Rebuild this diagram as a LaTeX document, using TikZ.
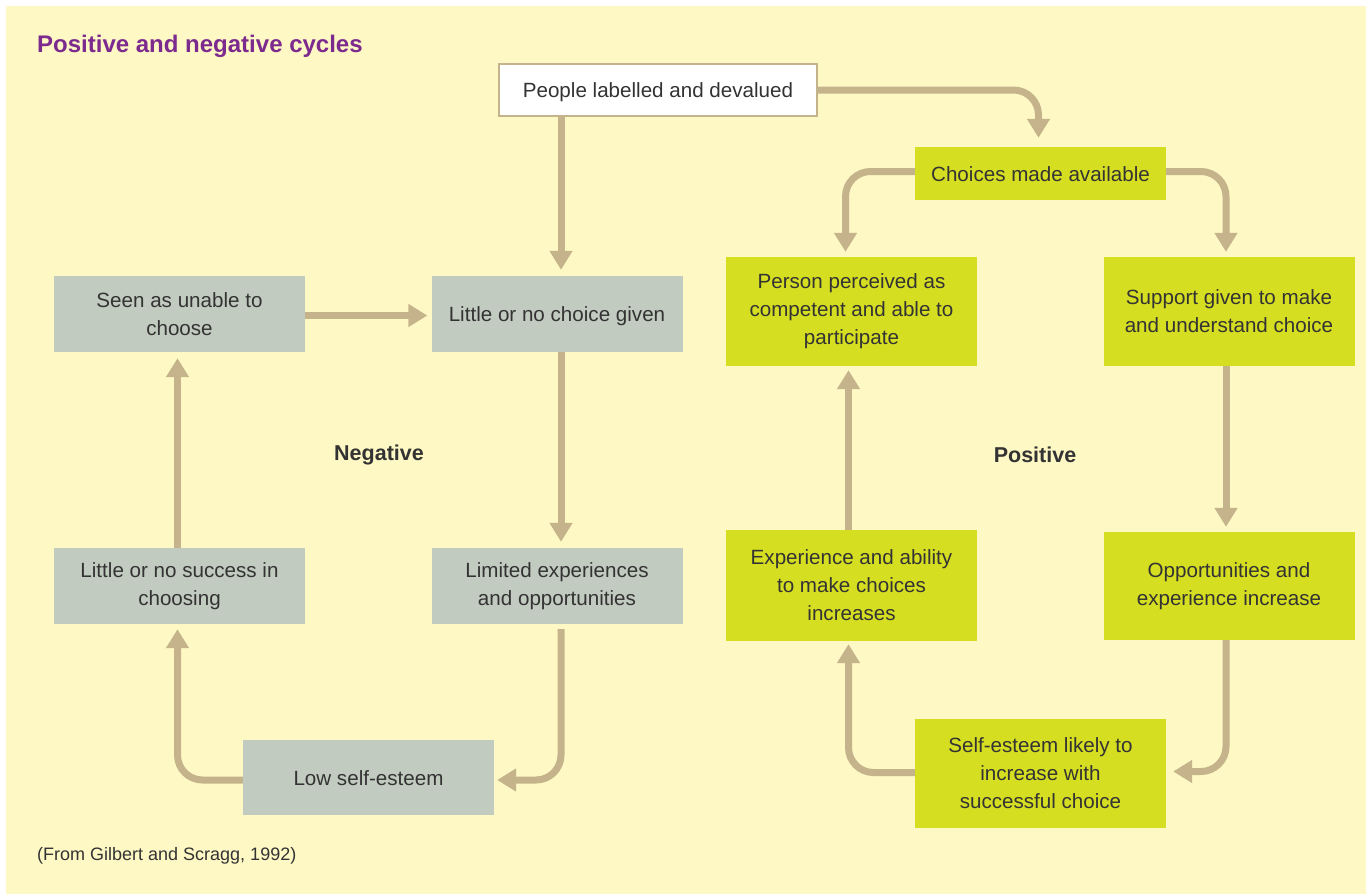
\documentclass[tikz,border=0pt]{standalone}
\usepackage{fontspec}
\setmainfont{Liberation Sans}
\usetikzlibrary{arrows.meta,calc}
\definecolor{bgyellow}{HTML}{FEF8C4}
\definecolor{boxgray}{HTML}{C2CBC0}
\definecolor{boxgreen}{HTML}{D6DE22}
\definecolor{arrowtan}{HTML}{C4B38B}
\definecolor{txtdark}{HTML}{333333}
\definecolor{titlepurple}{HTML}{7D2A8E}
\tikzset{
  boxbase/.style={rectangle, inner sep=0pt, align=center, text=txtdark,
    font=\fontsize{20.6}{28}\selectfont, minimum width=251pt},
  oneline/.style={text height=15pt, text depth=0pt},
  graybox/.style={boxbase, fill=boxgray},
  greenbox/.style={boxbase, fill=boxgreen},
  whitebox/.style={boxbase, fill=white, draw=arrowtan, line width=2pt},
  arr/.style={draw=arrowtan, line width=7pt, rounded corners=25pt,
    -{Triangle[width=22pt,length=19pt]}},
  cyclelabel/.style={font=\bfseries\fontsize{21.5}{24}\selectfont, text=txtdark}
}
\begin{document}
\begin{tikzpicture}[x=1pt,y=-1pt]
\useasboundingbox (0,0) rectangle (1370,894);
\fill[bgyellow] (6,6) rectangle (1366,894);

\node[anchor=west, inner sep=0pt, font=\bfseries\fontsize{24}{28}\selectfont, text=titlepurple] (title) at (37,46) {Positive and negative cycles};
\node[anchor=west, inner sep=0pt, font=\fontsize{18}{22}\selectfont, text=txtdark] (source) at (37,856) {(From Gilbert and Scragg, 1992)};

\node[whitebox, oneline, minimum width=318pt, minimum height=52pt] (people) at (658,90) {People labelled and devalued};
\node[greenbox, oneline, minimum height=53pt] (choices) at (1040.5,173.5) {Choices made available};

\node[graybox, minimum height=76pt] (seen) at (179.5,314) {Seen as unable to\\choose};
\node[graybox, oneline, minimum height=76pt] (nochoice) at (557,314) {Little or no choice given};
\node[graybox, minimum height=76pt] (nosuccess) at (179.5,586) {Little or no success in\\choosing};
\node[graybox, minimum height=76pt] (limited) at (557,586) {Limited experiences\\and opportunities};
\node[graybox, oneline, minimum height=75pt] (low) at (368.5,777.5) {Low self-esteem};

\node[greenbox, minimum height=109pt] (person) at (851.5,311.5) {Person perceived as\\competent and able to\\participate};
\node[greenbox, minimum height=109pt] (support) at (1229,311.5) {Support given to make\\and understand choice};
\node[greenbox, minimum height=111pt] (experience) at (851.5,585.5) {Experience and ability\\to make choices\\increases};
\node[greenbox, minimum height=108pt] (opps) at (1229,586) {Opportunities and\\experience increase};
\node[greenbox, minimum height=109pt] (selfest) at (1040.5,773.5) {Self-esteem likely to\\increase with\\successful choice};

\node[cyclelabel] (neg) at (379,455) {Negative};
\node[cyclelabel] (pos) at (1035,455) {Positive};

% negative cycle
\draw[arr] ($(nochoice.north|-people.south)+(4,0)$) -- ($(nochoice.north)+(4,-6)$);
\draw[arr] ($(seen.east)+(0,1.5)$) -- ($(nochoice.west)+(-4,1.5)$);
\draw[arr] ($(nochoice.south)+(4,0)$) -- ($(limited.north)+(4,-6)$);
\draw[arr] ($(limited.south)+(4,5)$) |- ($(low.east)+(3,2.5)$);
\draw[arr] ($(low.west)+(0,2.5)$) -| ($(nosuccess.south)+(-2,5)$);
\draw[arr] ($(nosuccess.north)+(-2,0)$) -- ($(seen.south)+(-2,6)$);

% positive cycle
\draw[arr] (people.east) -| ($(choices.north)+(-2,-9)$);
\draw[arr] ($(choices.west)+(0,-2)$) -| ($(person.north)+(-6,-5)$);
\draw[arr] ($(choices.east)+(0,-2)$) -| ($(support.north)+(-3,-5)$);
\draw[arr] ($(support.south)+(-3,0)$) -- ($(opps.north)+(-3,-5)$);
\draw[arr] ($(opps.south)+(-3,0)$) |- ($(selfest.east)+(7,-2)$);
\draw[arr] ($(selfest.west)+(0,-1)$) -| ($(experience.south)+(-3,3)$);
\draw[arr] ($(experience.north)+(-3,0)$) -- ($(person.south)+(-3,4)$);
\end{tikzpicture}
\end{document}
